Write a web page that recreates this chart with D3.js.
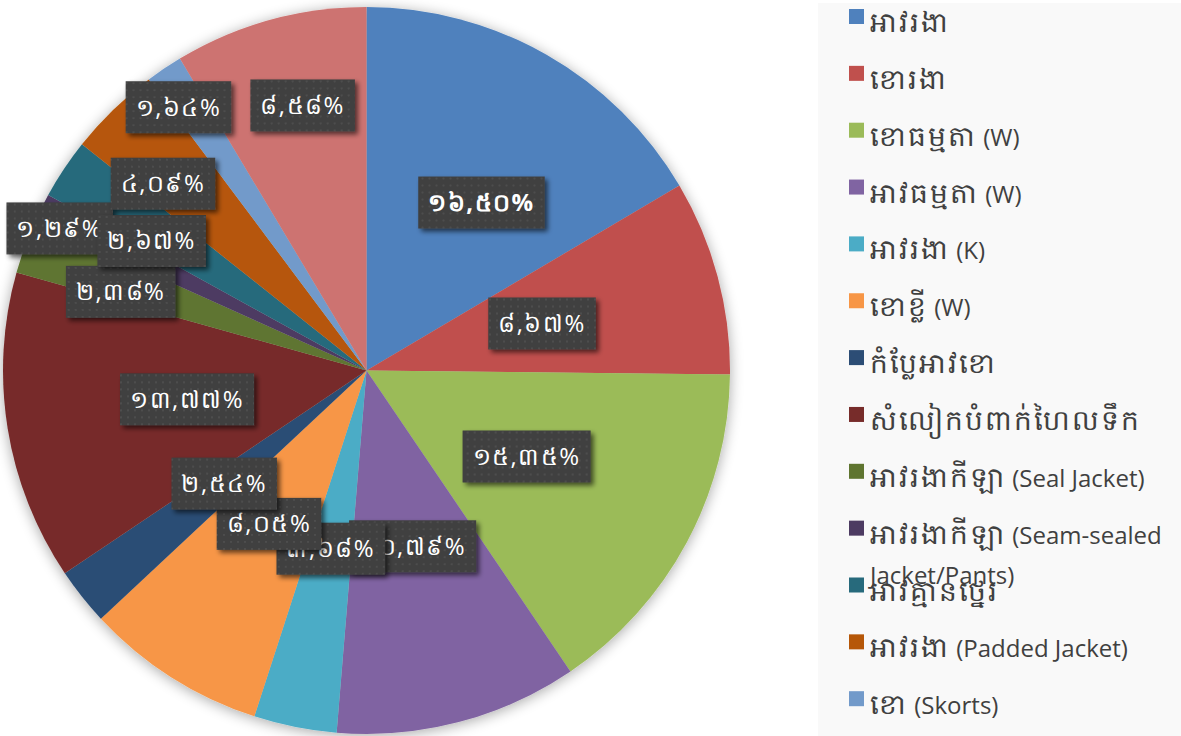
<!DOCTYPE html>
<html>
<head>
<meta charset="utf-8">
<script src="https://cdn.jsdelivr.net/npm/d3@7"></script>
<style>
    body { margin: 0; background: #ffffff; }
    svg { display: block; font-family: "Open Sans", "Noto Sans", "DejaVu Sans", sans-serif; }
</style>
</head>
<body>
<svg id="chart" width="1181" height="736"></svg>
<script>
// data (percent of total)
var categories = [
    "អាវរងា",
    "ខោរងា",
    "ខោធម្មតា (W)",
    "អាវធម្មតា (W)",
    "អាវរងា (K)",
    "ខោខ្លី (W)",
    "កំប្លែអាវខោ",
    "សំលៀកបំពាក់ហៃលទឹក",
    "អាវរងាកីឡា (Seal Jacket)",
    "អាវរងាកីឡា (Seam-sealed Jacket/Pants)",
    "អាវគ្មានថ្នេរ",
    "អាវរងា (Padded Jacket)",
    "ខោ (Skorts)",
    "ផ្សេងៗ"
];
var shares = [16.50, 8.67, 15.35, 10.79, 3.68, 8.05, 2.54, 13.77, 2.38, 1.29, 2.67, 4.09, 1.64, 8.58];
var colors = ["#4f81bd", "#c0504d", "#9bbb59", "#8064a2", "#4bacc6", "#f79646", "#2c4d75",
              "#772c2a", "#5f7530", "#4d3b62", "#276a7c", "#b65708", "#729aca", "#cd7371"];

// label placement: [radius fraction, angle shift in degrees]
var labelPlace = [[0.56, 4.7], [0.5, 0], [0.5, 0], [0.5, 0], [0.5, 0], [0.5, 0], [0.5, 0],
                  [0.5, 0], [0.71, -2.2], [0.93, -1.7], [0.69, -2.6], [0.76, -3.3], [0.89, -1.7], [0.75, 1.9]];

var W = 1181, H = 736;
var cx = 366.5, cy = 370.5, R = 363.5;

var khmerDigits = "០១២៣៤៥៦៧៨៩";
function toKhmer(v) {
    return d3.format(".2f")(v).replace(".", ",").replace(/[0-9]/g, function (c) { return khmerDigits[+c]; }) + "%";
}

var svg = d3.select("#chart");
var defs = svg.append("defs");

var pieShadow = defs.append("filter").attr("id", "pieShadow")
    .attr("x", "-10%").attr("y", "-10%").attr("width", "120%").attr("height", "120%");
pieShadow.append("feGaussianBlur").attr("in", "SourceAlpha").attr("stdDeviation", 7);
pieShadow.append("feOffset").attr("dx", 0).attr("dy", 2).attr("result", "blur");
pieShadow.append("feComponentTransfer").append("feFuncA").attr("type", "linear").attr("slope", 0.35);
var m1 = pieShadow.append("feMerge");
m1.append("feMergeNode");
m1.append("feMergeNode").attr("in", "SourceGraphic");

var boxShadow = defs.append("filter").attr("id", "boxShadow")
    .attr("x", "-20%").attr("y", "-30%").attr("width", "150%").attr("height", "170%");
boxShadow.append("feGaussianBlur").attr("in", "SourceAlpha").attr("stdDeviation", 2.5);
boxShadow.append("feOffset").attr("dx", 3).attr("dy", 3);
boxShadow.append("feComponentTransfer").append("feFuncA").attr("type", "linear").attr("slope", 0.6);
var m2 = boxShadow.append("feMerge");
m2.append("feMergeNode");
m2.append("feMergeNode").attr("in", "SourceGraphic");

var dots = defs.append("pattern").attr("id", "dots")
    .attr("patternUnits", "userSpaceOnUse").attr("width", 7).attr("height", 7);
dots.append("rect").attr("width", 7).attr("height", 7).attr("fill", "#3f3f3f");
dots.append("rect").attr("x", 3).attr("y", 3).attr("width", 2).attr("height", 2).attr("fill", "#4e4e4e");

// legend panel
svg.append("rect").attr("x", 818).attr("y", 3).attr("width", W - 818).attr("height", H - 3)
    .attr("fill", "#f9f9f9");

var pie = d3.pie().sort(null).value(function (d) { return d; });
var arcs = pie(shares);
var arc = d3.arc().innerRadius(0).outerRadius(R);

var g = svg.append("g").attr("transform", "translate(" + cx + "," + cy + ")");
g.append("g").attr("filter", "url(#pieShadow)")
    .selectAll("path").data(arcs).enter().append("path")
    .attr("d", arc)
    .attr("fill", function (d, i) { return colors[i]; });

// data labels
var labels = g.append("g").selectAll("g").data(arcs).enter().append("g")
    .attr("transform", function (d, i) {
        var a = (d.startAngle + d.endAngle) / 2 + labelPlace[i][1] * Math.PI / 180;
        var r = R * labelPlace[i][0];
        return "translate(" + (Math.sin(a) * r) + "," + (-Math.cos(a) * r) + ")";
    });

labels.each(function (d, i) {
    var lg = d3.select(this);
    var box = lg.append("rect").attr("fill", "url(#dots)").attr("filter", "url(#boxShadow)");
    var t = lg.append("text")
        .attr("text-anchor", "middle")
        .attr("dy", "0.35em")
        .attr("fill", "#ffffff")
        .style("font-size", "24px")
        .style("letter-spacing", "1.5px")
        .style("font-weight", i === 0 ? "bold" : "normal")
        .text(toKhmer(shares[i]));
    var bb = t.node().getBBox();
    var bw = Math.max(bb.width + 20, 100), bh = 52;
    box.attr("x", -bw / 2).attr("y", -bh / 2).attr("width", bw).attr("height", bh);
});

// legend
function addParts(sel, s) {
    var k = s.indexOf(" (");
    var kh = k < 0 ? s : s.slice(0, k);
    sel.append("tspan").style("font-size", "28px").style("letter-spacing", "2px").text(kh);
    if (k >= 0) sel.append("tspan").style("font-size", "24px").text(s.slice(k));
}

var legend = svg.append("g").attr("transform", "translate(849,9)");
var item = legend.selectAll("g").data(categories).enter().append("g")
    .attr("transform", function (d, i) { return "translate(0," + (i * 56.85) + ")"; });
item.append("rect").attr("width", 15).attr("height", 15)
    .attr("fill", function (d, i) { return colors[i]; });
item.append("text")
    .attr("x", 21).attr("y", 23)
    .attr("fill", "#404040")
    .style("font-size", "24px")
    .each(function (d) {
        var t = d3.select(this);
        if (d.indexOf("Seam-sealed") >= 0) {
            addParts(t, "អាវរងាកីឡា (Seam-sealed");
            t.append("tspan").attr("x", 21).attr("dy", 40).text("Jacket/Pants)");
        } else {
            addParts(t, d);
        }
    });
</script>
</body>
</html>
